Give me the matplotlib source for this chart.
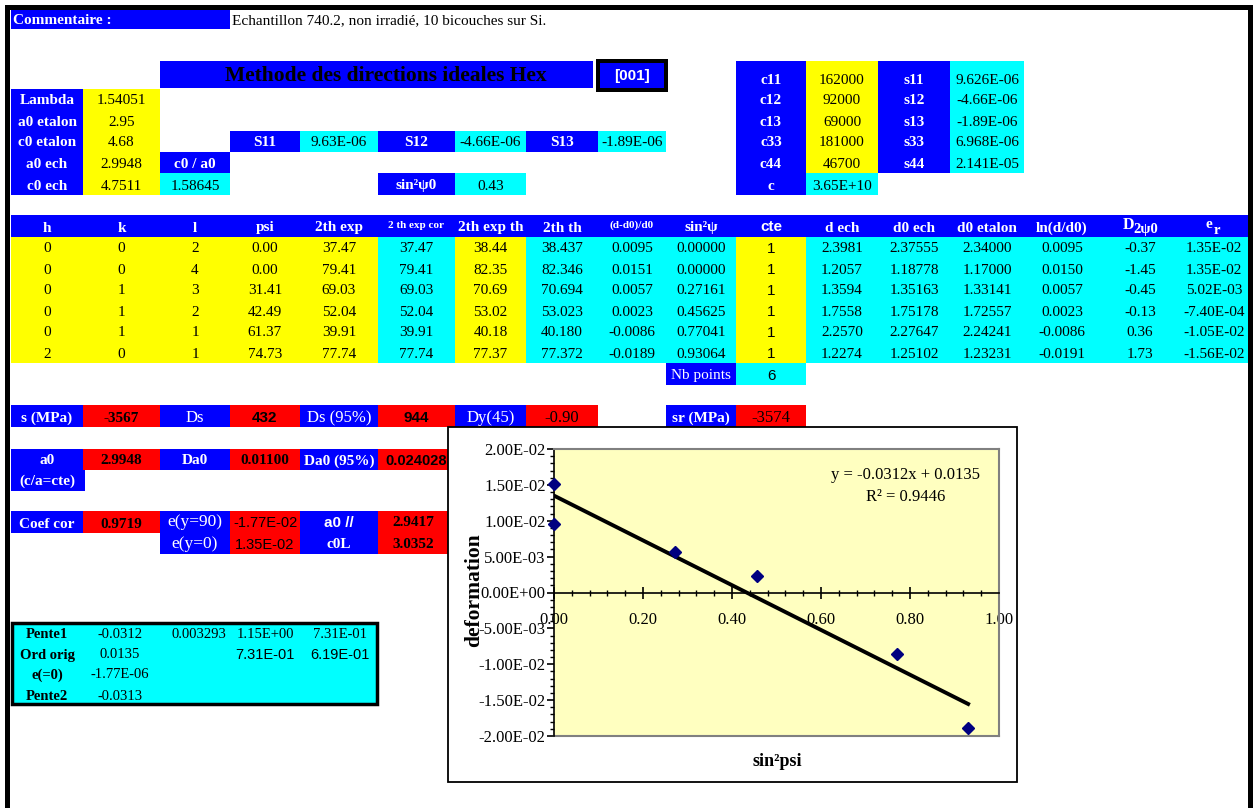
import matplotlib
matplotlib.use("Agg")
import numpy as np
import matplotlib.pyplot as plt
from matplotlib.patches import Rectangle
from matplotlib.ticker import MultipleLocator, FormatStrFormatter

SERIF = ["Liberation Serif", "DejaVu Serif"]
SANS = ["Liberation Sans", "DejaVu Sans"]
plt.rcParams["font.family"] = SERIF

W, H = 1253, 808
BLUE, YEL, CYAN, RED = "#0000FF", "#FFFF00", "#00FFFF", "#FF0000"

# ---------- Header / constants ----------
comment = "Echantillon 740.2, non irradié, 10 bicouches sur Si."
title = "Methode des directions ideales Hex"
direction = "[001]"
param_labels = ["Lambda", "a0 etalon", "c0 etalon", "a0 ech", "c0 ech"]
param_values = ["1.54051", "2.95", "4.68", "2.9948", "4.7511"]
c_over_a = "1.58645"
S_labels = ["S11", "S12", "S13"]
S_values = ["9.63E-06", "-4.66E-06", "-1.89E-06"]
sin2psi0 = "0.43"
cij_labels = ["c11", "c12", "c13", "c33", "c44"]
cij_values = ["162000", "92000", "69000", "181000", "46700"]
sij_labels = ["s11", "s12", "s13", "s33", "s44"]
sij_values = ["9.626E-06", "-4.66E-06", "-1.89E-06", "6.968E-06", "2.141E-05"]
c_value = "3.65E+10"

# ---------- Reflections ----------
h = [0, 0, 0, 0, 0, 2]
k = [0, 0, 1, 1, 1, 0]
l = [2, 4, 3, 2, 1, 1]
psi = [0.00, 0.00, 31.41, 42.49, 61.37, 74.73]
tth_exp = [37.47, 79.41, 69.03, 52.04, 39.91, 77.74]
tth_exp_cor = [37.47, 79.41, 69.03, 52.04, 39.91, 77.74]
tth_exp_th = [38.44, 82.35, 70.69, 53.02, 40.18, 77.37]
tth_th = [38.437, 82.346, 70.694, 53.023, 40.180, 77.372]
strain = [0.0095, 0.0151, 0.0057, 0.0023, -0.0086, -0.0189]
sin2psi = [0.00000, 0.00000, 0.27161, 0.45625, 0.77041, 0.93064]
cte = [1, 1, 1, 1, 1, 1]
d_ech = [2.3981, 1.2057, 1.3594, 1.7558, 2.2570, 1.2274]
d0_ech = [2.37555, 1.18778, 1.35163, 1.75178, 2.27647, 1.25102]
d0_etalon = [2.34000, 1.17000, 1.33141, 1.72557, 2.24241, 1.23231]
ln_d = [0.0095, 0.0150, 0.0057, 0.0023, -0.0086, -0.0191]
d2psi0 = [-0.37, -1.45, -0.45, -0.13, 0.36, 1.73]
eps_r = [1.35e-2, 1.35e-2, 5.02e-3, -7.40e-4, -1.05e-2, -1.56e-2]
nb_points = "6"

# ---------- Results ----------
sigma, d_sigma, d_sigma95 = "-3567", "432", "944"
d_psi45, sigma_r = "-0.90", "-3574"
a0_fit, d_a0, d_a0_95 = "2.9948", "0.01100", "0.024028"
coef_cor, eps_90, eps_0 = "0.9719", "-1.77E-02", "1.35E-02"
a0_par, c0_L = "2.9417", "3.0352"
stats_rows = [
    ["Pente1", "-0.0312", "0.003293", "1.15E+00", "7.31E-01"],
    ["Ord orig", "0.0135", "", "7.31E-01", "6.19E-01"],
    ["e(=0)", "-1.77E-06", "", "", ""],
    ["Pente2", "-0.0313", "", "", ""],
]
fit_slope, fit_icpt, fit_r2 = -0.0312, 0.0135, 0.9446

# ---------- Grid ----------
COLS = [11, 83, 160, 230, 300, 378, 455, 526, 598, 666, 736, 806, 878, 950,
        1024, 1100, 1180, 1248]
TOP_ROWS = [61, 89, 110, 131, 152, 173, 195]

fig = plt.figure(figsize=(W / 100, H / 100), dpi=100)
bg = fig.add_axes([0, 0, 1, 1])
bg.set_xlim(0, W)
bg.set_ylim(H, 0)
bg.axis("off")


def box(x0, x1, y0, y1, fc, z=1):
    bg.add_patch(Rectangle((x0, y0), x1 - x0, y1 - y0, facecolor=fc,
                           edgecolor="none", zorder=z))


def txt(x, y, s, size=11, bold=False, color="black", fam=SERIF, ha="center"):
    bg.text(x, y, s, fontsize=size, fontweight="bold" if bold else "normal",
            color=color, family=fam, ha=ha, va="center", zorder=3)


def cell(c0, c1, y0, y1, fc, s="", **kw):
    x0, x1 = COLS[c0], COLS[c1]
    box(x0, x1, y0, y1, fc)
    if s:
        txt((x0 + x1) / 2, y1 - 9, s, **kw)


# outer frame
box(5, W, 5, 10, "black", 5)
box(5, 10, 5, H, "black", 5)
box(1248, W, 5, H, "black", 5)

# comment + title
box(11, 230, 10, 29, BLUE)
txt(13, 20, "Commentaire :", bold=True, color="white", ha="left")
txt(232, 21, comment, ha="left")
box(160, 593, 61, 88, BLUE)
txt(386, 76, title, size=15.5, bold=True)
box(596, 668, 59, 92, "black")
box(600, 664, 63, 88, BLUE)
txt(632, 76, direction, size=11, bold=True, color="white", fam=SANS)

# parameters
for i, (lab, val) in enumerate(zip(param_labels, param_values)):
    y0, y1 = TOP_ROWS[i + 1], TOP_ROWS[i + 2]
    cell(0, 1, y0, y1, BLUE, lab, bold=True, color="white")
    cell(1, 2, y0, y1, YEL, val)
cell(2, 3, 152, 173, BLUE, "c0 / a0", bold=True, color="white")
cell(2, 3, 173, 195, CYAN, c_over_a)
for i, (lab, val) in enumerate(zip(S_labels, S_values)):
    cell(3 + 2 * i, 4 + 2 * i, 131, 152, BLUE, lab, bold=True, color="white")
    cell(4 + 2 * i, 5 + 2 * i, 131, 152, CYAN, val)
cell(5, 6, 173, 195, BLUE, "sin²ψ0", bold=True, color="white")
cell(6, 7, 173, 195, CYAN, sin2psi0)

for i in range(5):
    y0, y1 = TOP_ROWS[i], TOP_ROWS[i + 1]
    cell(10, 11, y0, y1, BLUE, cij_labels[i], bold=True, color="white")
    cell(11, 12, y0, y1, YEL, cij_values[i])
    cell(12, 13, y0, y1, BLUE, sij_labels[i], bold=True, color="white")
    cell(13, 14, y0, y1, CYAN, sij_values[i])
cell(10, 11, 173, 195, BLUE, "c", bold=True, color="white")
cell(11, 12, 173, 195, CYAN, c_value)

# ---------- Main table ----------
headers = ["h", "k", "l", "psi", "2th exp", "2 th exp cor", "2th exp th", "2th th",
           "(d-d0)/d0", "sin²ψ", "cte", "d ech", "d0 ech", "d0 etalon", "ln(d/d0)",
           "", ""]
columns = [h, k, l, psi, tth_exp, tth_exp_cor, tth_exp_th, tth_th, strain, sin2psi,
           cte, d_ech, d0_ech, d0_etalon, ln_d, d2psi0, eps_r]
fmts = ["{:d}", "{:d}", "{:d}", "{:.2f}", "{:.2f}", "{:.2f}", "{:.2f}", "{:.3f}",
        "{:.4f}", "{:.5f}", "{:d}", "{:.4f}", "{:.5f}", "{:.5f}", "{:.4f}",
        "{:.2f}", "{:.2E}"]
fills = [YEL] * 5 + [CYAN, YEL, CYAN, CYAN, CYAN, YEL] + [CYAN] * 6

box(COLS[0], COLS[-1], 215, 237, BLUE)
for j, head in enumerate(headers):
    xc = (COLS[j] + COLS[j + 1]) / 2
    if head in ("2 th exp cor", "(d-d0)/d0"):
        txt(xc, 225, head, size=8, bold=True, color="white")
    elif head == "cte":
        txt(xc, 227, head, size=11, bold=True, color="white", fam=SANS)
    elif head:
        txt(xc, 228, head, bold=True, color="white")
txt(1128, 225, "D", size=11.5, bold=True, color="white")
txt(1146, 229, "2ψ0", size=10.5, bold=True, color="white")
txt(1209, 224, "e", size=11, bold=True, color="white")
txt(1217, 230, "r", size=10.5, bold=True, color="white")

for j, (vals, fmt, fc) in enumerate(zip(columns, fmts, fills)):
    for i, v in enumerate(vals):
        y0 = 237 + 21 * i
        fam = SANS if j == 10 else SERIF
        cell(j, j + 1, y0, y0 + 21, fc, fmt.format(v), fam=fam)
cell(9, 10, 363, 385, BLUE, "Nb points", color="white")
cell(10, 11, 363, 385, CYAN, nb_points, fam=SANS)

# ---------- Results block ----------
cell(0, 1, 405, 427, BLUE, "s (MPa)", bold=True, color="white")
cell(1, 2, 405, 427, RED, sigma, bold=True)
cell(2, 3, 405, 427, BLUE, "Ds", color="white", size=12)
cell(3, 4, 405, 427, RED, d_sigma, bold=True, fam=SANS)
cell(4, 5, 405, 427, BLUE, "Ds (95%)", color="white", size=12)
cell(5, 6, 405, 427, RED, d_sigma95, bold=True, fam=SANS)
cell(6, 7, 405, 427, BLUE, "Dy(45)", color="white", size=12)
cell(7, 8, 405, 427, RED, d_psi45, size=12)
cell(9, 10, 405, 427, BLUE, "sr (MPa)", bold=True, color="white")
cell(10, 11, 405, 427, RED, sigma_r, size=12)

box(11, 85, 449, 491, BLUE)
txt(47, 461, "a0", bold=True, color="white")
txt(47, 481, "(c/a=cte)", bold=True, color="white")
cell(1, 2, 449, 470, RED, a0_fit, bold=True)
cell(2, 3, 449, 470, BLUE, "Da0", bold=True, color="white")
cell(3, 4, 449, 470, RED, d_a0, bold=True)
cell(4, 5, 449, 470, BLUE, "Da0 (95%)", bold=True, color="white")
cell(5, 6, 449, 470, RED, d_a0_95, bold=True, fam=SANS, size=10.5)

cell(0, 1, 511, 533, BLUE, "Coef cor", bold=True, color="white")
cell(1, 2, 511, 533, RED, coef_cor, bold=True)
cell(2, 3, 511, 554, BLUE)
txt(195, 522, "e(y=90)", color="white", size=12.5)
txt(195, 544, "e(y=0)", color="white", size=12.5)
cell(3, 4, 511, 554, RED)
txt(265, 523, eps_90, fam=SANS, size=10.5)
txt(265, 545, eps_0, fam=SANS, size=10.5)
cell(4, 5, 511, 554, BLUE)
txt(339, 523, "a0 //", bold=True, color="white", fam=SANS)
txt(339, 545, "c0L", bold=True, color="white")
cell(5, 6, 511, 554, RED)
txt(413, 523, a0_par, bold=True)
txt(413, 545, c0_L, bold=True)

# regression summary box
bg.add_patch(Rectangle((12, 623), 365, 81, facecolor=CYAN, edgecolor="black",
                       linewidth=2.5, zorder=2))
stat_x = [47, 120, 199, 265, 340]
stat_y = [635, 655, 675, 696]
for r, row in enumerate(stats_rows):
    for c, s in enumerate(row):
        if not s:
            continue
        if c == 0:
            txt(stat_x[c], stat_y[r], s, size=10.5, bold=True)
        else:
            fam = SANS if (r == 1 and c >= 3) else SERIF
            txt(stat_x[c], stat_y[r], s, size=10.5, fam=fam)

# ---------- Chart ----------
bg.add_patch(Rectangle((448, 427), 569, 355, facecolor="white", edgecolor="black",
                       linewidth=1.3, zorder=10))
fig.text(474 / W, 1 - 590 / H, "deformation", rotation=90, fontsize=15.5,
         fontweight="bold", ha="center", va="center", zorder=20)
fig.text(777 / W, 1 - 762 / H, "sin²psi", fontsize=13, fontweight="bold",
         ha="center", va="center", zorder=20)

ax = fig.add_axes([554 / W, 1 - 736 / H, 445 / W, 287 / H])
ax.set_facecolor("#FFFFC0")
ax.set_xlim(0, 1)
ax.set_ylim(-0.02, 0.02)
for side in ("top", "right"):
    ax.spines[side].set_color("#808080")
    ax.spines[side].set_linewidth(1.5)
ax.spines["left"].set_color("black")
ax.spines["left"].set_linewidth(1.2)
ax.spines["bottom"].set_position(("data", 0))
ax.spines["bottom"].set_linewidth(1.2)
ax.axhline(-0.02, color="#808080", lw=1.5, clip_on=False)

ax.yaxis.set_major_locator(MultipleLocator(0.005))
ax.yaxis.set_minor_locator(MultipleLocator(0.001))
ax.yaxis.set_major_formatter(FormatStrFormatter("%.2E"))
ax.xaxis.set_major_locator(MultipleLocator(0.2))
ax.xaxis.set_minor_locator(MultipleLocator(0.04))
ax.xaxis.set_major_formatter(FormatStrFormatter("%.2f"))
ax.tick_params(axis="y", which="major", direction="out", length=5, width=1.2,
               labelsize=12, pad=1)
ax.tick_params(axis="y", which="minor", direction="out", length=3, width=1)
ax.tick_params(axis="x", which="major", direction="inout", length=8, width=1.2,
               labelsize=12, pad=10)
ax.tick_params(axis="x", which="minor", direction="inout", length=5, width=1)

xfit = np.array([0, max(sin2psi)])
ax.plot(xfit, fit_slope * xfit + fit_icpt, color="black", lw=2.8, zorder=2)
ax.plot(sin2psi, strain, "D", color="#000080", ms=6.5, clip_on=False, zorder=3)
ax.text(0.791, 0.909, f"y = {fit_slope}x + {fit_icpt}", transform=ax.transAxes,
        ha="center", va="center", fontsize=12)
ax.text(0.791, 0.833, f"R² = {fit_r2}", transform=ax.transAxes,
        ha="center", va="center", fontsize=12)

fig.savefig("out.png", dpi=100)
